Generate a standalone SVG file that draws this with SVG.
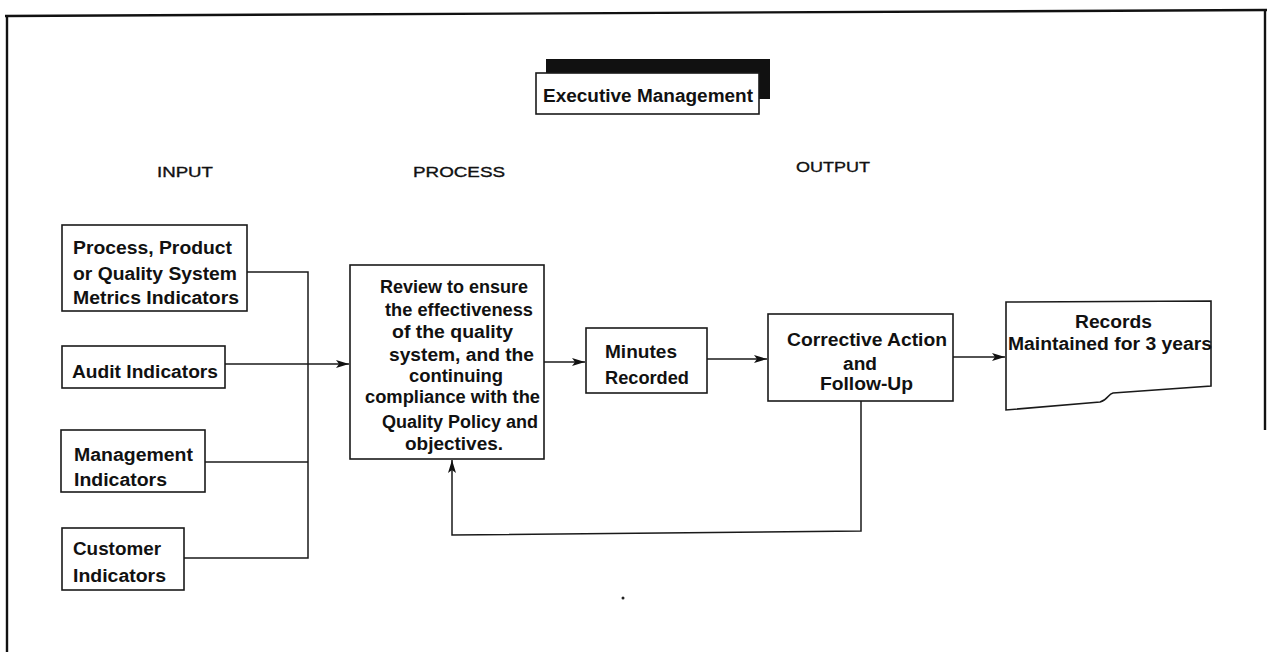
<svg xmlns="http://www.w3.org/2000/svg" width="1269" height="652" viewBox="0 0 1269 652">
  <style>
    .frame { fill: none; stroke: #111; stroke-width: 2.4; }
    .box { fill: #fff; stroke: #1a1a1a; stroke-width: 1.6; }
    .wire { fill: none; stroke: #1a1a1a; stroke-width: 1.5; }
    .t { font-family: "Liberation Sans", Arial, Helvetica, sans-serif; font-weight: bold; font-size: 18px; fill: #111; }
    .lbl { font-family: "Liberation Sans", Arial, Helvetica, sans-serif; font-size: 15px; fill: #111; stroke: #111; stroke-width: 0.35; }
  </style>
  <defs>
    <marker id="arrow" markerUnits="userSpaceOnUse" markerWidth="14" markerHeight="10" refX="13" refY="4" orient="auto">
      <path d="M0,0 L13,4 L0,8 L3,4 z" fill="#111"/>
    </marker>
  </defs>

  <rect width="1269" height="652" fill="#fff"/>

  <!-- page frame -->
  <g id="frame">
    <line class="frame" x1="5" y1="16" x2="1267" y2="10"/>
    <line class="frame" x1="7" y1="16" x2="7" y2="652"/>
    <line class="frame" x1="1265" y1="10" x2="1265" y2="430"/>
  </g>

  <!-- title block with drop shadow -->
  <g id="executive-management">
    <rect x="546" y="59" width="224" height="40" fill="#111"/>
    <rect class="box" x="536" y="73" width="223" height="41"/>
    <text class="t" x="543" y="102" textLength="210" lengthAdjust="spacingAndGlyphs">Executive Management</text>
  </g>

  <!-- column headings -->
  <g id="headings">
    <text class="lbl" x="157" y="177" textLength="56" lengthAdjust="spacingAndGlyphs">INPUT</text>
    <text class="lbl" x="413" y="177" textLength="92" lengthAdjust="spacingAndGlyphs">PROCESS</text>
    <text class="lbl" x="796" y="172" textLength="74" lengthAdjust="spacingAndGlyphs">OUTPUT</text>
  </g>

  <!-- connectors -->
  <g id="connectors">
    <polyline class="wire" points="247,272 308,272 308,558 184,558"/>
    <line class="wire" x1="205" y1="462" x2="308" y2="462"/>
    <line class="wire" x1="225" y1="364" x2="349" y2="364" marker-end="url(#arrow)"/>
    <line class="wire" x1="544" y1="362" x2="585" y2="362" marker-end="url(#arrow)"/>
    <line class="wire" x1="707" y1="359" x2="767" y2="359" marker-end="url(#arrow)"/>
    <line class="wire" x1="953" y1="357" x2="1005" y2="357" marker-end="url(#arrow)"/>
    <polyline class="wire" points="861,401 861,531 452,535 452,460" marker-end="url(#arrow)"/>
  </g>

  <!-- input nodes -->
  <g id="metrics-indicators">
    <rect class="box" x="62" y="225" width="185" height="86"/>
    <text class="t" x="73" y="254" textLength="159" lengthAdjust="spacingAndGlyphs">Process, Product</text>
    <text class="t" x="73" y="280" textLength="164" lengthAdjust="spacingAndGlyphs">or Quality System</text>
    <text class="t" x="73" y="304" textLength="166" lengthAdjust="spacingAndGlyphs">Metrics Indicators</text>
  </g>

  <g id="audit-indicators">
    <rect class="box" x="62" y="346" width="163" height="42"/>
    <text class="t" x="72" y="378" textLength="146" lengthAdjust="spacingAndGlyphs">Audit Indicators</text>
  </g>

  <g id="management-indicators">
    <rect class="box" x="61" y="430" width="144" height="62"/>
    <text class="t" x="74" y="461" textLength="119" lengthAdjust="spacingAndGlyphs">Management</text>
    <text class="t" x="74" y="486" textLength="93" lengthAdjust="spacingAndGlyphs">Indicators</text>
  </g>

  <g id="customer-indicators">
    <rect class="box" x="62" y="528" width="122" height="62"/>
    <text class="t" x="73" y="555" textLength="88" lengthAdjust="spacingAndGlyphs">Customer</text>
    <text class="t" x="73" y="582" textLength="93" lengthAdjust="spacingAndGlyphs">Indicators</text>
  </g>

  <!-- review process -->
  <g id="review">
    <rect class="box" x="350" y="265" width="194" height="194"/>
    <text class="t" x="380" y="293" textLength="148" lengthAdjust="spacingAndGlyphs">Review to ensure</text>
    <text class="t" x="385" y="316" textLength="148" lengthAdjust="spacingAndGlyphs">the effectiveness</text>
    <text class="t" x="392" y="338" textLength="121" lengthAdjust="spacingAndGlyphs">of the quality</text>
    <text class="t" x="389" y="361" textLength="145" lengthAdjust="spacingAndGlyphs">system, and the</text>
    <text class="t" x="409" y="382" textLength="94" lengthAdjust="spacingAndGlyphs">continuing</text>
    <text class="t" x="365" y="403" textLength="175" lengthAdjust="spacingAndGlyphs">compliance with the</text>
    <text class="t" x="382" y="428" textLength="156" lengthAdjust="spacingAndGlyphs">Quality Policy and</text>
    <text class="t" x="405" y="450" textLength="98" lengthAdjust="spacingAndGlyphs">objectives.</text>
  </g>

  <!-- outputs -->
  <g id="minutes">
    <rect class="box" x="586" y="328" width="121" height="65"/>
    <text class="t" x="605" y="358" textLength="72" lengthAdjust="spacingAndGlyphs">Minutes</text>
    <text class="t" x="605" y="384" textLength="84" lengthAdjust="spacingAndGlyphs">Recorded</text>
  </g>

  <g id="corrective-action">
    <rect class="box" x="768" y="314" width="185" height="87"/>
    <text class="t" x="787" y="346" textLength="160" lengthAdjust="spacingAndGlyphs">Corrective Action</text>
    <text class="t" x="843" y="370" textLength="34" lengthAdjust="spacingAndGlyphs">and</text>
    <text class="t" x="820" y="390" textLength="93" lengthAdjust="spacingAndGlyphs">Follow-Up</text>
  </g>

  <g id="records">
    <path class="box" d="M1006,302 L1211,301 L1211,386 L1113,393 C1108,394 1108,400 1100,402 L1006,410 Z"/>
    <text class="t" x="1075" y="328" textLength="77" lengthAdjust="spacingAndGlyphs">Records</text>
    <text class="t" x="1008" y="350" textLength="204" lengthAdjust="spacingAndGlyphs">Maintained for 3 years</text>
  </g>

  <circle cx="623" cy="598" r="1.5" fill="#222"/>
</svg>
